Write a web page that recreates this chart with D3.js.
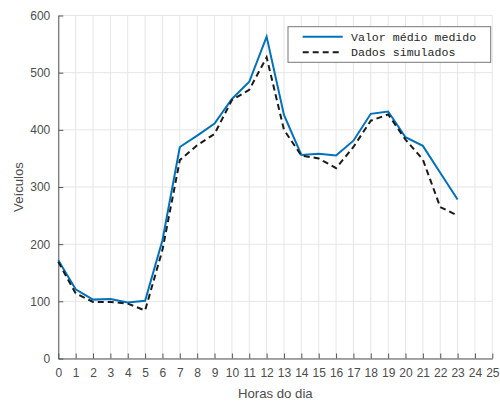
<!DOCTYPE html>
<html>
<head>
<meta charset="utf-8">
<script src="https://cdn.jsdelivr.net/npm/d3@7"></script>
<style>
  body { margin: 0; background: #fff; }
  svg { display: block; }
</style>
</head>
<body>
<div id="my_dataviz"></div>
<script>
// hours of the day and the two series
var horas = d3.range(0, 24);
var valorMedio = [172, 121, 103, 104, 98, 101, 207, 370, 390, 411, 454, 484, 563, 426, 356, 358, 355, 381, 428, 432, 387, 372, 325, 278];
var simulados = [169, 114, 99, 99, 96, 84, 190, 347, 373, 393, 452, 470, 527, 400, 355, 350, 333, 370, 416, 427, 383, 348, 265, 250];
var xTicks = d3.range(0, 26);
var yTicks = [0, 100, 200, 300, 400, 500, 600];
var seriesNames = ["Valor médio medido", "Dados simulados"];

var margin = {top: 15.5, right: 7.7, bottom: 44.5, left: 58.3},
    width = 500 - margin.left - margin.right,
    height = 403 - margin.top - margin.bottom;

var svg = d3.select("#my_dataviz")
  .append("svg")
    .attr("width", 500)
    .attr("height", 403)
  .append("g")
    .attr("transform", "translate(" + margin.left + "," + margin.top + ")");

var x = d3.scaleLinear().domain([0, 25]).range([0, width]);
var y = d3.scaleLinear().domain([0, 600]).range([height, 0]);

// grid
svg.append("g")
  .selectAll("line")
  .data(xTicks)
  .enter().append("line")
    .attr("x1", function(d) { return x(d); })
    .attr("x2", function(d) { return x(d); })
    .attr("y1", 0)
    .attr("y2", height)
    .attr("stroke", "#e6e6e6")
    .attr("stroke-width", 1);
svg.append("g")
  .selectAll("line")
  .data(yTicks)
  .enter().append("line")
    .attr("x1", 0)
    .attr("x2", width)
    .attr("y1", function(d) { return y(d); })
    .attr("y2", function(d) { return y(d); })
    .attr("stroke", "#e6e6e6")
    .attr("stroke-width", 1);

// axes (ticks pointing inside, like matlab)
var xAxis = svg.append("g")
  .attr("transform", "translate(0," + height + ")")
  .call(d3.axisBottom(x).tickValues(xTicks).tickSize(-5).tickPadding(10).tickSizeOuter(0));
var yAxis = svg.append("g")
  .call(d3.axisLeft(y).tickValues(yTicks).tickSize(-5).tickPadding(8).tickSizeOuter(0));

[xAxis, yAxis].forEach(function(a) {
  a.select(".domain").attr("stroke", "#555");
  a.selectAll(".tick line").attr("stroke", "#555");
  a.selectAll("text")
    .attr("fill", "#4d4d4d")
    .style("font-family", "'Liberation Sans', Arial, sans-serif")
    .style("font-size", "12px");
});

// lines
var line = d3.line()
  .x(function(d, i) { return x(horas[i]); })
  .y(function(d) { return y(d); });

svg.append("path")
  .datum(valorMedio)
  .attr("fill", "none")
  .attr("stroke", "#0072BD")
  .attr("stroke-width", 2)
  .attr("d", line);

svg.append("path")
  .datum(simulados)
  .attr("fill", "none")
  .attr("stroke", "#1a1a1a")
  .attr("stroke-width", 2)
  .attr("stroke-dasharray", "6,4")
  .attr("d", line);

// axis labels
svg.append("text")
  .attr("x", width / 2)
  .attr("y", height + 39)
  .attr("text-anchor", "middle")
  .attr("fill", "#4d4d4d")
  .style("font-family", "'Liberation Sans', Arial, sans-serif")
  .style("font-size", "13.2px")
  .text("Horas do dia");

svg.append("text")
  .attr("x", -(height / 2))
  .attr("y", -35)
  .attr("transform", "rotate(-90)")
  .attr("text-anchor", "middle")
  .attr("fill", "#4d4d4d")
  .style("font-family", "'Liberation Sans', Arial, sans-serif")
  .style("font-size", "13.2px")
  .text("Veículos");

// legend
var legend = svg.append("g")
  .attr("transform", "translate(" + (288 - margin.left) + "," + (26.7 - margin.top) + ")");
legend.append("rect")
  .attr("width", 202.7)
  .attr("height", 35.6)
  .attr("fill", "#fff")
  .attr("stroke", "#777")
  .attr("stroke-width", 1);
var styles = [{c: "#0072BD", dash: null}, {c: "#1a1a1a", dash: "6,4"}];
seriesNames.forEach(function(name, i) {
  var ly = 10 + i * 15.6;
  legend.append("line")
    .attr("x1", 14.7).attr("x2", 54.7)
    .attr("y1", ly).attr("y2", ly)
    .attr("stroke", styles[i].c)
    .attr("stroke-width", 2)
    .attr("stroke-dasharray", styles[i].dash);
  legend.append("text")
    .attr("x", 63)
    .attr("y", ly + 4)
    .attr("fill", "#262626")
    .style("font-family", "'Liberation Mono', 'Courier New', monospace")
    .style("font-size", "11.6px")
    .text(name);
});
</script>
</body>
</html>
